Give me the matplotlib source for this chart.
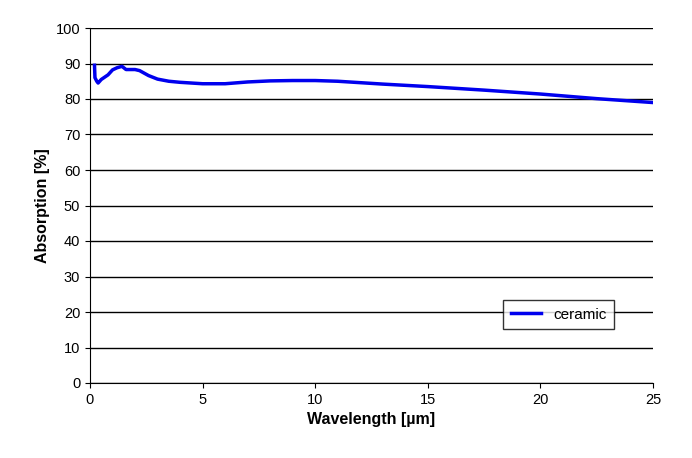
import matplotlib.pyplot as plt

plt.rcParams['font.family'] = ['Liberation Sans', 'DejaVu Sans']

wl = [0.2, 0.22, 0.3, 0.36, 0.5, 0.8, 1.0, 1.2, 1.42, 1.6, 2.0, 2.2, 2.6, 3.0, 3.5, 4.0, 5.0, 6.0, 7.0, 8.0, 9.0, 10.0, 11.0, 12.0, 13.0, 15.0, 17.5, 20.0, 22.5, 25.0]
ab = [89.5, 86.0, 85.0, 84.5, 85.5, 86.8, 88.2, 88.8, 89.2, 88.3, 88.3, 88.0, 86.6, 85.6, 85.0, 84.7, 84.3, 84.3, 84.8, 85.1, 85.2, 85.2, 85.0, 84.6, 84.2, 83.5, 82.5, 81.4, 80.1, 79.0]

fig = plt.figure(figsize=(6.92, 4.58), dpi=100)
ax = fig.add_axes([90/692, 1-383/458, 563/692, 355/458])
ax.plot(wl, ab, color='#0000ee', lw=2.5, label='ceramic')
ax.set_xlim(0, 25)
ax.set_ylim(0, 100)
ax.set_xticks(range(0, 26, 5))
ax.set_yticks(range(0, 101, 10))
ax.yaxis.grid(True, color='black', lw=1)
ax.tick_params(labelsize=10.5, direction='out')
for s in ['top', 'right']:
    ax.spines[s].set_visible(False)
ax.set_xlabel('Wavelength [µm]', fontsize=11.5, fontweight='bold')
ax.set_ylabel('Absorption [%]', fontsize=11.5, fontweight='bold')
ax.legend(loc='lower right', bbox_to_anchor=(0.945, 0.13), fancybox=False,
          edgecolor='black', fontsize=11, borderpad=0.5)
fig.savefig('out.png')
